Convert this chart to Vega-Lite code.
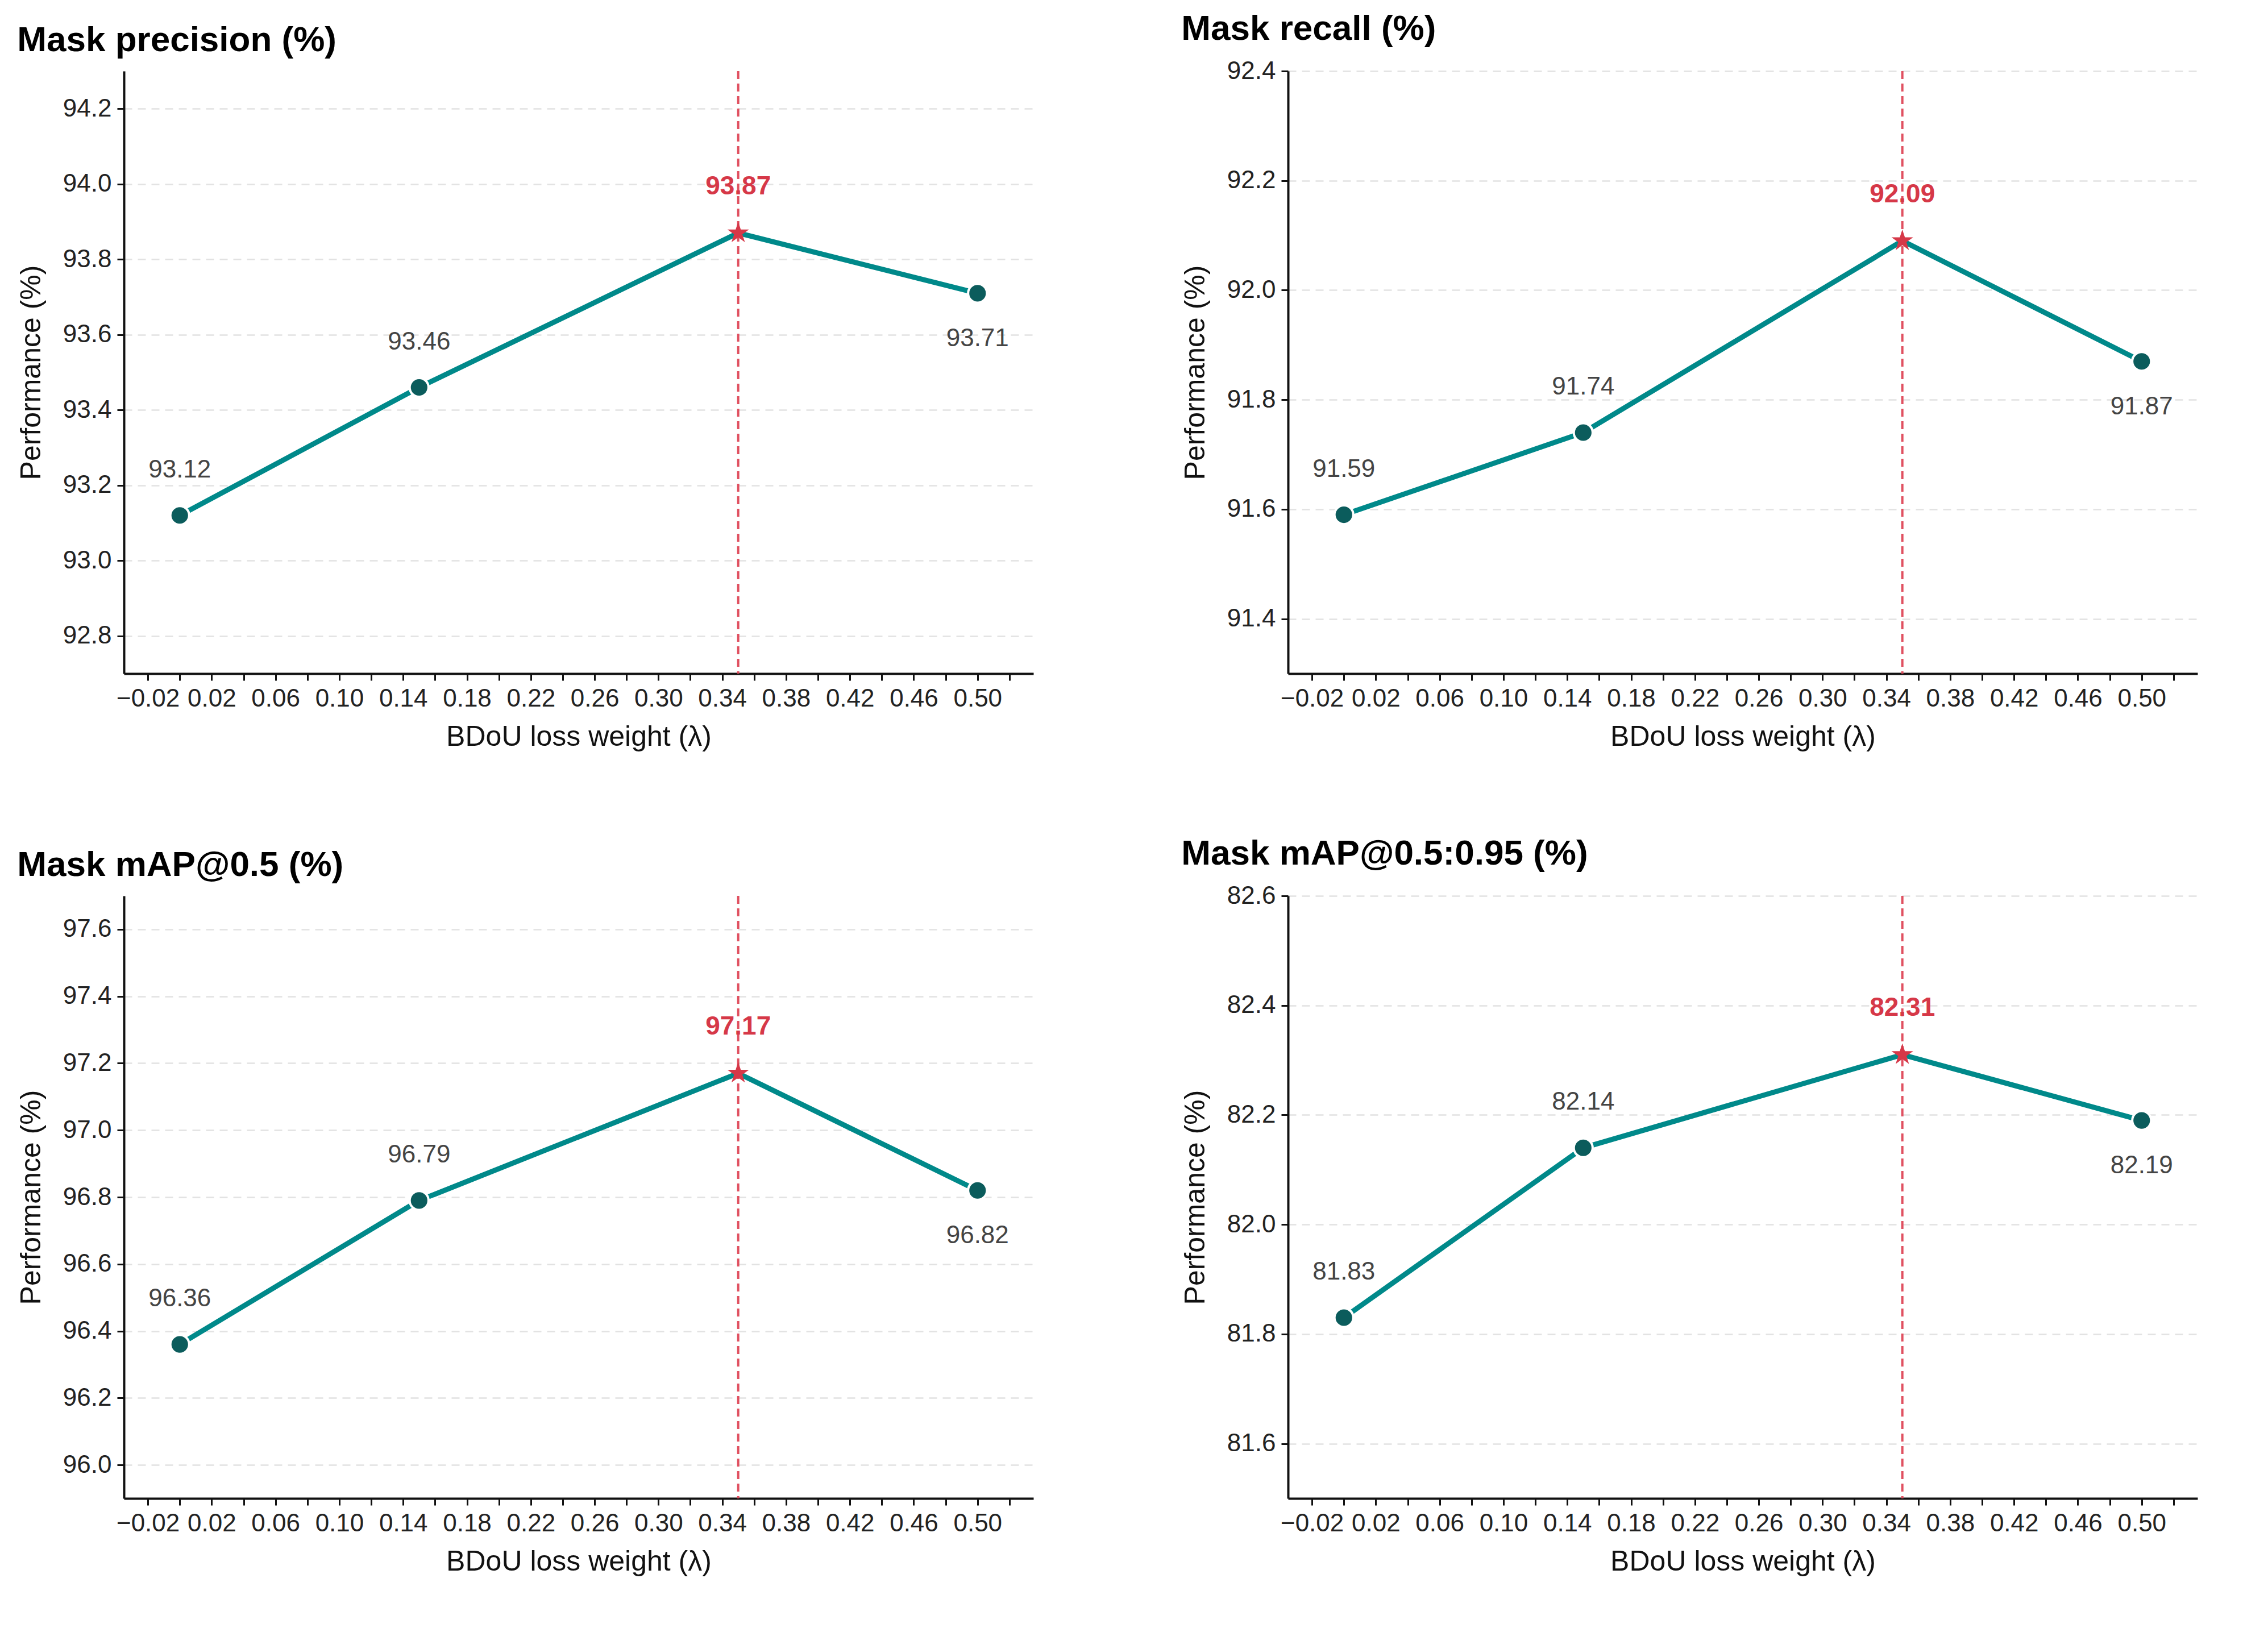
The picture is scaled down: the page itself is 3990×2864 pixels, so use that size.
{
"$schema":"https://vega.github.io/schema/vega-lite/v6.json",
"background":"white",
"padding":{"left":30,"top":20,"right":20,"bottom":10},
"columns":2,
"spacing":{"column":260,"row":150},
"config":{
 "font":"Liberation Sans",
 "view":{"stroke":null},
 "axis":{"labelFont":"Liberation Sans","titleFont":"Liberation Sans","labelFontSize":44,"titleFontSize":50,"titleFontWeight":"normal","labelColor":"#222","titleColor":"#111","domainColor":"#111","domainWidth":4,"tickColor":"#111","tickWidth":3,"tickSize":12,"labelPadding":10},
 "axisY":{"gridDash":[14,10],"gridColor":"#e2e2e2","gridWidth":2.5,"titlePadding":30,"format":".1f"},
 "axisX":{"grid":false,"titlePadding":20,"values":[0,0.15,0.35,0.5],"labelExpr":"datum.value==0?'0':format(datum.value,'.2f')"},
 "title":{"font":"Liberation Sans","fontSize":62,"fontWeight":"bold","anchor":"start","color":"#000","offset":20}
},
"concat":[
{"title":"Mask precision (%)","width":1600,"height":1060,
 "data":{"values":[{"lam":0,"v":93.12},{"lam":0.15,"v":93.46},{"lam":0.35,"v":93.87},{"lam":0.5,"v":93.71}]},
 "encoding":{"x":{"field":"lam","type":"quantitative","scale":{"domain":[-0.035,0.535]},"title":"BDoU loss weight (λ)"},
  "y":{"field":"v","type":"quantitative","scale":{"domain":[92.7,94.3],"zero":false,"nice":false},"axis":{"values":[92.8,93.0,93.2,93.4,93.6,93.8,94.0,94.2]},"title":"Performance (%)"}},
 "layer":[
  {"transform":[{"filter":"datum.lam==0.35"}],"mark":{"type":"rule","color":"#e05060","strokeWidth":4,"strokeDash":[14,8]},"encoding":{"y":{"value":0},"y2":{"value":1060}}},
  {"mark":{"type":"line","color":"#00898a","strokeWidth":9}},
  {"transform":[{"filter":"datum.lam!=0.35"}],"mark":{"type":"point","filled":true,"color":"#0b5c5c","stroke":"white","strokeWidth":4,"size":1100,"opacity":1}},
  {"transform":[{"filter":"datum.lam==0.35"}],"mark":{"type":"point","shape":"M0,-1L0.2245,-0.309L0.951,-0.309L0.363,0.118L0.588,0.809L0,0.382L-0.588,0.809L-0.363,0.118L-0.951,-0.309L-0.2245,-0.309Z","filled":true,"color":"#d63848","size":1600,"opacity":1}},
  {"transform":[{"filter":"datum.lam<0.3"}],"mark":{"type":"text","dy":-80,"fontSize":44,"color":"#444"},"encoding":{"text":{"field":"v","format":".2f"}}},
  {"transform":[{"filter":"datum.lam>0.4"}],"mark":{"type":"text","dy":80,"fontSize":44,"color":"#444"},"encoding":{"text":{"field":"v","format":".2f"}}},
  {"transform":[{"filter":"datum.lam==0.35"}],"mark":{"type":"text","dy":-82,"fontSize":46,"fontWeight":"bold","color":"#d63848"},"encoding":{"text":{"field":"v","format":".2f"}}}
 ]},
{"title":"Mask recall (%)","width":1600,"height":1060,
 "data":{"values":[{"lam":0,"v":91.59},{"lam":0.15,"v":91.74},{"lam":0.35,"v":92.09},{"lam":0.5,"v":91.87}]},
 "encoding":{"x":{"field":"lam","type":"quantitative","scale":{"domain":[-0.035,0.535]},"title":"BDoU loss weight (λ)"},
  "y":{"field":"v","type":"quantitative","scale":{"domain":[91.3,92.4],"zero":false,"nice":false},"axis":{"values":[91.4,91.6,91.8,92.0,92.2,92.4]},"title":"Performance (%)"}},
 "layer":[
  {"transform":[{"filter":"datum.lam==0.35"}],"mark":{"type":"rule","color":"#e05060","strokeWidth":4,"strokeDash":[14,8]},"encoding":{"y":{"value":0},"y2":{"value":1060}}},
  {"mark":{"type":"line","color":"#00898a","strokeWidth":9}},
  {"transform":[{"filter":"datum.lam!=0.35"}],"mark":{"type":"point","filled":true,"color":"#0b5c5c","stroke":"white","strokeWidth":4,"size":1100,"opacity":1}},
  {"transform":[{"filter":"datum.lam==0.35"}],"mark":{"type":"point","shape":"M0,-1L0.2245,-0.309L0.951,-0.309L0.363,0.118L0.588,0.809L0,0.382L-0.588,0.809L-0.363,0.118L-0.951,-0.309L-0.2245,-0.309Z","filled":true,"color":"#d63848","size":1600,"opacity":1}},
  {"transform":[{"filter":"datum.lam<0.3"}],"mark":{"type":"text","dy":-80,"fontSize":44,"color":"#444"},"encoding":{"text":{"field":"v","format":".2f"}}},
  {"transform":[{"filter":"datum.lam>0.4"}],"mark":{"type":"text","dy":80,"fontSize":44,"color":"#444"},"encoding":{"text":{"field":"v","format":".2f"}}},
  {"transform":[{"filter":"datum.lam==0.35"}],"mark":{"type":"text","dy":-82,"fontSize":46,"fontWeight":"bold","color":"#d63848"},"encoding":{"text":{"field":"v","format":".2f"}}}
 ]},
{"title":"Mask mAP@0.5 (%)","width":1600,"height":1060,
 "data":{"values":[{"lam":0,"v":96.36},{"lam":0.15,"v":96.79},{"lam":0.35,"v":97.17},{"lam":0.5,"v":96.82}]},
 "encoding":{"x":{"field":"lam","type":"quantitative","scale":{"domain":[-0.035,0.535]},"title":"BDoU loss weight (λ)"},
  "y":{"field":"v","type":"quantitative","scale":{"domain":[95.9,97.7],"zero":false,"nice":false},"axis":{"values":[96.0,96.2,96.4,96.6,96.8,97.0,97.2,97.4,97.6]},"title":"Performance (%)"}},
 "layer":[
  {"transform":[{"filter":"datum.lam==0.35"}],"mark":{"type":"rule","color":"#e05060","strokeWidth":4,"strokeDash":[14,8]},"encoding":{"y":{"value":0},"y2":{"value":1060}}},
  {"mark":{"type":"line","color":"#00898a","strokeWidth":9}},
  {"transform":[{"filter":"datum.lam!=0.35"}],"mark":{"type":"point","filled":true,"color":"#0b5c5c","stroke":"white","strokeWidth":4,"size":1100,"opacity":1}},
  {"transform":[{"filter":"datum.lam==0.35"}],"mark":{"type":"point","shape":"M0,-1L0.2245,-0.309L0.951,-0.309L0.363,0.118L0.588,0.809L0,0.382L-0.588,0.809L-0.363,0.118L-0.951,-0.309L-0.2245,-0.309Z","filled":true,"color":"#d63848","size":1600,"opacity":1}},
  {"transform":[{"filter":"datum.lam<0.3"}],"mark":{"type":"text","dy":-80,"fontSize":44,"color":"#444"},"encoding":{"text":{"field":"v","format":".2f"}}},
  {"transform":[{"filter":"datum.lam>0.4"}],"mark":{"type":"text","dy":80,"fontSize":44,"color":"#444"},"encoding":{"text":{"field":"v","format":".2f"}}},
  {"transform":[{"filter":"datum.lam==0.35"}],"mark":{"type":"text","dy":-82,"fontSize":46,"fontWeight":"bold","color":"#d63848"},"encoding":{"text":{"field":"v","format":".2f"}}}
 ]},
{"title":"Mask mAP@0.5:0.95 (%)","width":1600,"height":1060,
 "data":{"values":[{"lam":0,"v":81.83},{"lam":0.15,"v":82.14},{"lam":0.35,"v":82.31},{"lam":0.5,"v":82.19}]},
 "encoding":{"x":{"field":"lam","type":"quantitative","scale":{"domain":[-0.035,0.535]},"title":"BDoU loss weight (λ)"},
  "y":{"field":"v","type":"quantitative","scale":{"domain":[81.5,82.6],"zero":false,"nice":false},"axis":{"values":[81.6,81.8,82.0,82.2,82.4,82.6]},"title":"Performance (%)"}},
 "layer":[
  {"transform":[{"filter":"datum.lam==0.35"}],"mark":{"type":"rule","color":"#e05060","strokeWidth":4,"strokeDash":[14,8]},"encoding":{"y":{"value":0},"y2":{"value":1060}}},
  {"mark":{"type":"line","color":"#00898a","strokeWidth":9}},
  {"transform":[{"filter":"datum.lam!=0.35"}],"mark":{"type":"point","filled":true,"color":"#0b5c5c","stroke":"white","strokeWidth":4,"size":1100,"opacity":1}},
  {"transform":[{"filter":"datum.lam==0.35"}],"mark":{"type":"point","shape":"M0,-1L0.2245,-0.309L0.951,-0.309L0.363,0.118L0.588,0.809L0,0.382L-0.588,0.809L-0.363,0.118L-0.951,-0.309L-0.2245,-0.309Z","filled":true,"color":"#d63848","size":1600,"opacity":1}},
  {"transform":[{"filter":"datum.lam<0.3"}],"mark":{"type":"text","dy":-80,"fontSize":44,"color":"#444"},"encoding":{"text":{"field":"v","format":".2f"}}},
  {"transform":[{"filter":"datum.lam>0.4"}],"mark":{"type":"text","dy":80,"fontSize":44,"color":"#444"},"encoding":{"text":{"field":"v","format":".2f"}}},
  {"transform":[{"filter":"datum.lam==0.35"}],"mark":{"type":"text","dy":-82,"fontSize":46,"fontWeight":"bold","color":"#d63848"},"encoding":{"text":{"field":"v","format":".2f"}}}
 ]}
]
}
